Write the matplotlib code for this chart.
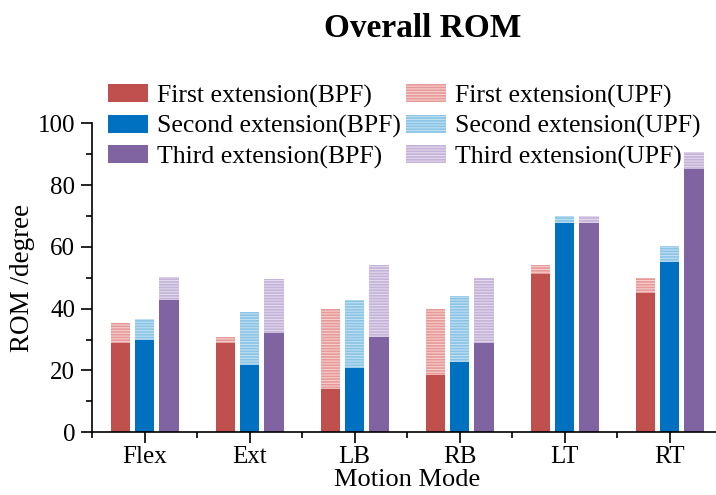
import numpy as np
import matplotlib
matplotlib.use("Agg")
import matplotlib.pyplot as plt
from matplotlib.patches import Patch
from matplotlib.ticker import MultipleLocator

modes = ["Flex", "Ext", "LB", "RB", "LT", "RT"]

# ROM with brace (BPF) and total ROM without brace (UPF), degrees
first_bpf = [28.9, 29.0, 14.1, 18.4, 51.1, 45.1]
first_upf = [35.2, 30.8, 39.8, 40.0, 54.0, 49.8]
second_bpf = [29.8, 21.7, 20.8, 22.6, 67.8, 55.1]
second_upf = [36.5, 38.9, 42.7, 44.0, 69.9, 60.3]
third_bpf = [42.7, 32.2, 30.7, 29.0, 67.8, 85.2]
third_upf = [50.1, 49.7, 54.1, 49.8, 69.9, 90.6]

series_names = ["First extension", "Second extension", "Third extension"]
solid_colors = ["#C0504D", "#0070C0", "#8064A2"]
light_colors = ["#F6CFCD", "#BFE0F2", "#E3D8EC"]
hatch_colors = ["#E59A98", "#8CC4E6", "#C4B3D8"]

plt.rcParams["font.family"] = ["Liberation Serif", "DejaVu Serif"]
plt.rcParams["hatch.linewidth"] = 1.2

fig = plt.figure(figsize=(7.16, 4.95), dpi=100)
ax = fig.add_axes([0.1285, 0.127, 0.88, 0.6236])

x = np.arange(len(modes))
offsets = [-0.23, 0.0, 0.235]
width = 0.186
bpf_sets = [first_bpf, second_bpf, third_bpf]
upf_sets = [first_upf, second_upf, third_upf]

for i in range(3):
    ax.bar(x + offsets[i], upf_sets[i], width, color=light_colors[i],
           edgecolor=hatch_colors[i], linewidth=0, hatch="------")
    ax.bar(x + offsets[i], bpf_sets[i], width, color=solid_colors[i],
           linewidth=0)

ax.set_xlim(-0.5, 5.5)
ax.set_ylim(0, 100)
ax.set_xticks(x)
ax.set_xticklabels(modes)
ax.xaxis.set_minor_locator(MultipleLocator(1.0, offset=0.5))
ax.yaxis.set_major_locator(MultipleLocator(20))
ax.yaxis.set_minor_locator(MultipleLocator(10))
ax.tick_params(which="major", direction="out", length=8, width=1.2,
               labelsize=18, pad=4)
ax.tick_params(axis="x", which="major", pad=2)
ax.tick_params(which="minor", direction="out", length=4, width=1.2)
for side in ["top", "right"]:
    ax.spines[side].set_visible(False)
for side in ["left", "bottom"]:
    ax.spines[side].set_linewidth(1.2)

ax.set_xlabel("Motion Mode", fontsize=19, labelpad=1)
ax.set_ylabel("ROM /degree", fontsize=19.5, labelpad=2)

handles = []
labels = []
for i in range(3):
    handles.append(Patch(facecolor=solid_colors[i], linewidth=0))
    labels.append(series_names[i] + "(BPF)")
for i in range(3):
    handles.append(Patch(facecolor=light_colors[i], edgecolor=hatch_colors[i],
                         linewidth=0, hatch="------"))
    labels.append(series_names[i] + "(UPF)")

fig.legend(handles, labels, ncol=2, loc="upper left",
           bbox_to_anchor=(0.151, 0.83), frameon=False, fontsize=18.5,
           handlelength=1.55, handleheight=0.7, handletextpad=0.35,
           columnspacing=0.2, labelspacing=0.28, borderpad=0,
           borderaxespad=0)

fig.text(0.59, 0.943, "Overall ROM", ha="center", va="center",
         fontsize=24, fontweight="bold")

fig.savefig("out.png", dpi=100)
